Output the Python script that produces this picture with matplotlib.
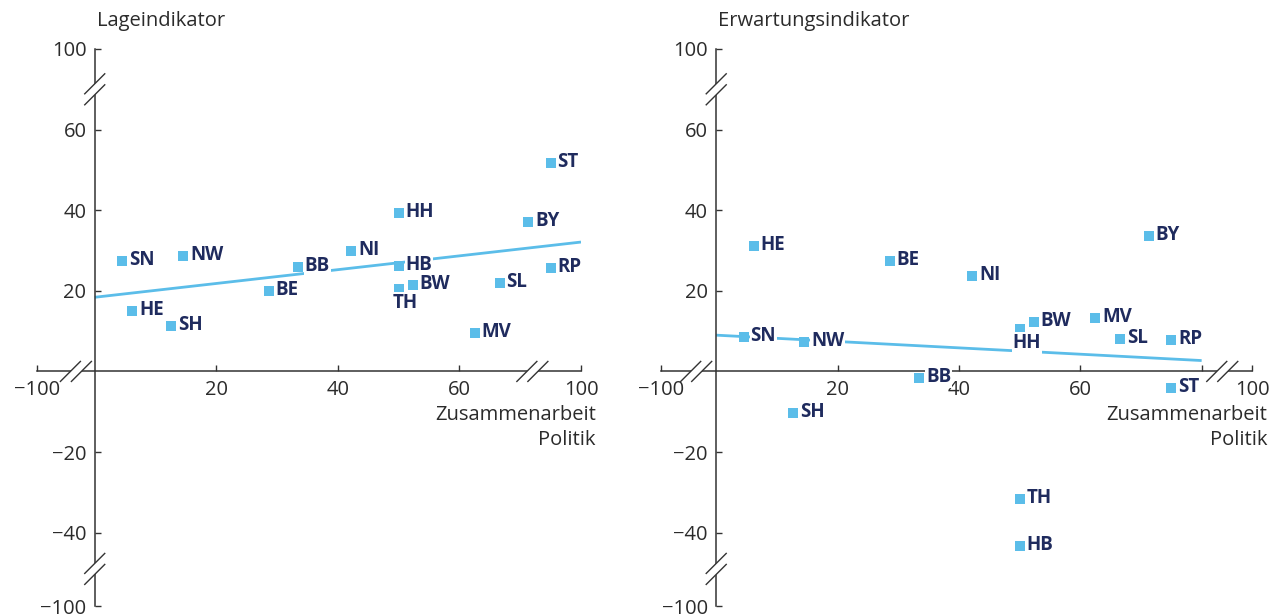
import numpy as np
import matplotlib
matplotlib.use("Agg")
import matplotlib.pyplot as plt
from matplotlib.patches import Polygon

plt.rcParams['font.family'] = ['Open Sans', 'DejaVu Sans']

# data -----------------------------------------------------------------------
states = ["SN", "HE", "SH", "NW", "BE", "BB", "NI", "HH", "HB", "TH",
          "BW", "SL", "MV", "BY", "RP", "ST"]
zusammenarbeit = [4.5, 6.2, 12.6, 14.5, 28.6, 33.4, 42.2, 50.0, 50.0, 50.0,
                  52.3, 66.6, 62.5, 71.3, 75.0, 75.0]
lage = [27.4, 14.9, 11.2, 28.6, 19.9, 25.9, 29.9, 39.3, 26.1, 20.4,
        21.4, 21.9, 9.5, 37.1, 25.6, 51.8]
erwartung = [8.5, 31.1, -10.2, 7.2, 27.4, -1.7, 23.6, 10.5, -43.3, -31.6,
             12.2, 8.0, 13.2, 33.6, 7.7, -4.2]

trend_x = [0, 80]
lage_trend = [18.4, 32.1]
erwartung_trend = [9.0, 2.7]

titles = ["Lageindikator", "Erwartungsindikator"]
xlabel = "Zusammenarbeit\nPolitik"

# broken axes: labels sit at compressed positions
ytick_pos = [80, 60, 40, 20, -20, -40, -58.2]
ytick_lab = ["100", "60", "40", "20", "\u221220", "\u221240", "\u2212100"]

BLUE = "#5bbde9"
NAVY = "#1f2b5e"
AXC = "#333333"
TXT = "#2b2b2b"

fig = plt.figure(figsize=(12.77, 6.16), dpi=100)
W, H = 1277, 616


def px_axes(x0, x1, y0, y1):
    # axes from pixel box (y measured from top)
    return fig.add_axes([x0 / W, (H - y1) / H, (x1 - x0) / W, (y1 - y0) / H])


def brk(ax, x, y, on_y):
    cx, cy = ax.transData.transform((x, y))
    inv = ax.transData.inverted()
    h, g = 10, 5.5
    if on_y:
        offs = [(0, -g), (0, g)]
    else:
        offs = [(-g, 0), (g, 0)]
    corners = []
    for (ox, oy) in offs:
        p0 = (cx + ox - h, cy + oy - h)
        p1 = (cx + ox + h, cy + oy + h)
        corners.append((p0, p1))
    poly = [corners[0][0], corners[0][1], corners[1][1], corners[1][0]]
    poly = inv.transform(poly)
    ax.add_patch(Polygon(poly, closed=True, fc="white", ec="none",
                         zorder=4, clip_on=False))
    for p0, p1 in corners:
        d = inv.transform([p0, p1])
        ax.plot(d[:, 0], d[:, 1], color=AXC, lw=1.0, zorder=5, clip_on=False)


panels = [
    dict(box=(37, 581, 49, 606), xlim=(-9.5, 80), yvals=lage, trend=lage_trend,
         xt_pos=[-9.5, 20, 40, 60, 80], xt_lab=["\u2212100", "20", "40", "60", "100"],
         xbreaks=[-3.1, 72], below=["TH"]),
    dict(box=(661, 1252, 49, 606), xlim=(-9.1, 88.3), yvals=erwartung, trend=erwartung_trend,
         xt_pos=[-9.1, 20, 40, 60, 80, 88.3], xt_lab=["\u2212100", "20", "40", "60", "", "100"],
         xbreaks=[-3.3, 83.4], below=["HH"]),
]

for title, p in zip(titles, panels):
    ax = px_axes(*p["box"])
    ax.set_xlim(*p["xlim"])
    ax.set_ylim(-58.2, 80)
    ax.patch.set_alpha(0)
    for s in ["top", "right"]:
        ax.spines[s].set_visible(False)
    ax.spines["left"].set_position(("data", 0))
    ax.spines["bottom"].set_position(("data", 0))
    for s in ["left", "bottom"]:
        ax.spines[s].set_color(AXC)
        ax.spines[s].set_linewidth(1.1)
    ax.set_yticks(ytick_pos, ytick_lab)
    ax.set_xticks(p["xt_pos"], p["xt_lab"])
    ax.tick_params(axis="both", direction="in", length=4, width=1.0, color=AXC,
                   labelsize=14.5, labelcolor=TXT)
    ax.tick_params(axis="y", pad=6)
    ax.tick_params(axis="x", pad=6)

    ax.plot(trend_x, p["trend"], color=BLUE, lw=2, zorder=2, solid_capstyle="butt")
    ax.scatter(zusammenarbeit, p["yvals"], marker="s", s=52, color=BLUE,
               linewidths=0, zorder=6, clip_on=False)
    for st, xv, yv in zip(states, zusammenarbeit, p["yvals"]):
        if st in p["below"]:
            ax.annotate(st, (xv, yv), xytext=(7, -14), textcoords="offset pixels",
                        ha="center", va="center", fontsize=13.5, fontweight="bold",
                        color=NAVY, zorder=7,
                        bbox=dict(fc="white", ec="none", pad=0.5))
        else:
            ax.annotate(st, (xv, yv), xytext=(7, 1), textcoords="offset pixels",
                        ha="left", va="center", fontsize=13.5, fontweight="bold",
                        color=NAVY, zorder=7,
                        bbox=dict(fc="white", ec="none", pad=0.5))

    for xb in p["xbreaks"]:
        brk(ax, xb, 0, on_y=False)
    brk(ax, 0, 70, on_y=True)
    brk(ax, 0, -49, on_y=True)

    ax.annotate(title, (0, 80), xytext=(2, 28), textcoords="offset pixels",
                ha="left", va="center", fontsize=14.5, color=TXT)
    ax.annotate(xlabel, (p["xlim"][1], 0), xytext=(15, -34), textcoords="offset pixels",
                ha="right", va="top", multialignment="right", fontsize=14.5,
                color=TXT, linespacing=1.3)

fig.savefig("out.png", dpi=100)
